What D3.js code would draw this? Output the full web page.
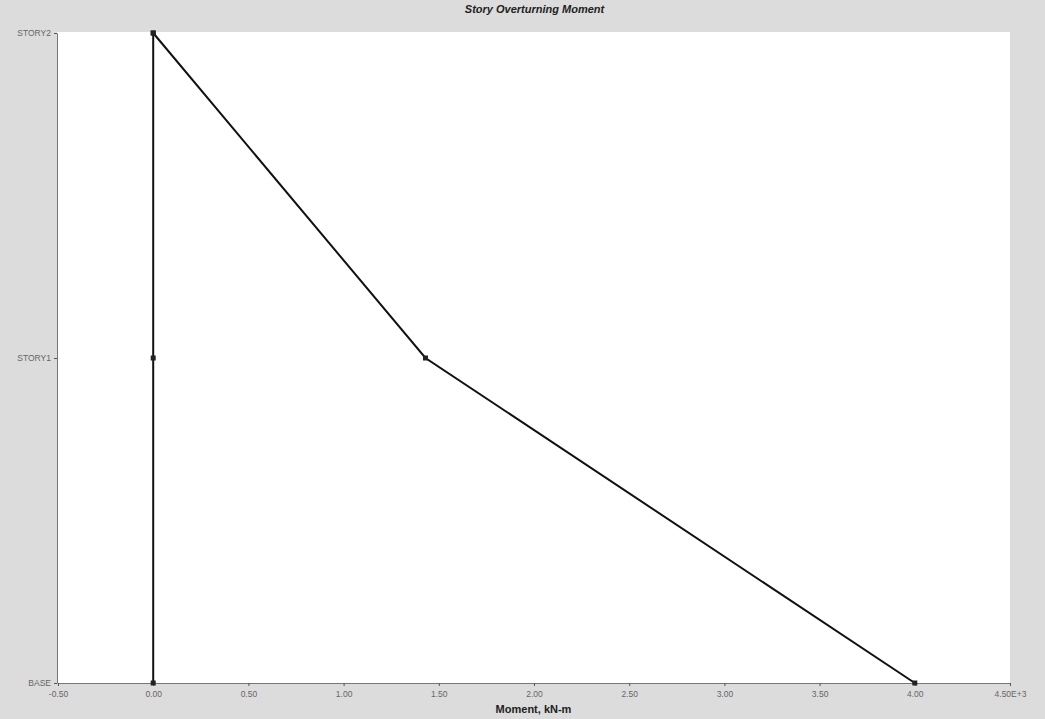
<!DOCTYPE html>
<html><head><meta charset="utf-8">
<script src="https://cdn.jsdelivr.net/npm/d3@7"></script>
<style>body{margin:0;background:#dadada;}svg{display:block;}</style>
</head><body>
<svg id="c" width="1045" height="719"></svg>
<script>
const stories = ["BASE", "STORY1", "STORY2"];
const momentX = [4.00, 1.43, 0.00];
const momentY = [0.00, 0.00, 0.00];
const xTicks = [-0.5, 0, 0.5, 1, 1.5, 2, 2.5, 3, 3.5, 4, 4.5];
const xTickLabels = ["-0.50","0.00","0.50","1.00","1.50","2.00","2.50","3.00","3.50","4.00","4.50E+3"];
const title = "Story Overturning Moment";
const xTitle = "Moment, kN-m";

const svg = d3.select("#c");
const W = 1045, H = 719;
const m = {l:57, r:35, t:32, b:36};
svg.append("rect").attr("width",W).attr("height",H).attr("fill","#dcdcdc");
const x = d3.scaleLinear().domain([-0.5,4.5]).range([m.l+1, W-m.r]);
const y = d3.scalePoint().domain(stories).range([H-m.b, m.t+1]);

svg.append("rect").attr("x",m.l).attr("y",m.t).attr("width",W-m.r-m.l).attr("height",H-m.b-m.t).attr("fill","#fff");

const xa = svg.append("g").attr("transform",`translate(0,${H-m.b})`)
  .call(d3.axisBottom(x).tickValues(xTicks).tickFormat((d,i)=>xTickLabels[i]).tickSize(3).tickSizeOuter(0));
xa.select(".domain").attr("stroke","#777");
xa.selectAll("line").attr("stroke","#555");
xa.selectAll("text").attr("font-family","Arial, Liberation Sans, sans-serif").attr("font-size",8.5).attr("fill","#666").attr("dy","0.95em");

const ya = svg.append("g").attr("transform",`translate(${m.l},0)`)
  .call(d3.axisLeft(y).tickSize(3).tickSizeOuter(0));
ya.select(".domain").attr("stroke","#777");
ya.selectAll("line").attr("stroke","#555");
ya.selectAll("text").attr("font-family","Arial, Liberation Sans, sans-serif").attr("font-size",8.5).attr("fill","#666");

const line = d3.line().x(d=>x(d[0])).y(d=>y(d[1]));
const s1 = stories.map((s,i)=>[momentX[i], s]);
const s2 = stories.map((s,i)=>[momentY[i], s]);
[s2, s1].forEach(s=>{
  svg.append("path").datum(s).attr("d",line).attr("fill","none").attr("stroke","#111").attr("stroke-width",2);
  svg.selectAll(null).data(s).enter().append("rect")
    .attr("x",d=>x(d[0])-2.5).attr("y",d=>y(d[1])-2.5).attr("width",5).attr("height",5)
    .attr("fill","#222");
});

svg.append("text").attr("x",(m.l+W-m.r)/2+1).attr("y",13).attr("text-anchor","middle")
  .attr("font-family","Arial, Liberation Sans, sans-serif").attr("font-size",11).attr("font-weight","bold").attr("font-style","italic").attr("fill","#222").text(title);
svg.append("text").attr("x",(m.l+W-m.r)/2).attr("y",713).attr("text-anchor","middle")
  .attr("font-family","Arial, Liberation Sans, sans-serif").attr("font-size",11).attr("font-weight","bold").attr("fill","#222").text(xTitle);
</script>
</body></html>
